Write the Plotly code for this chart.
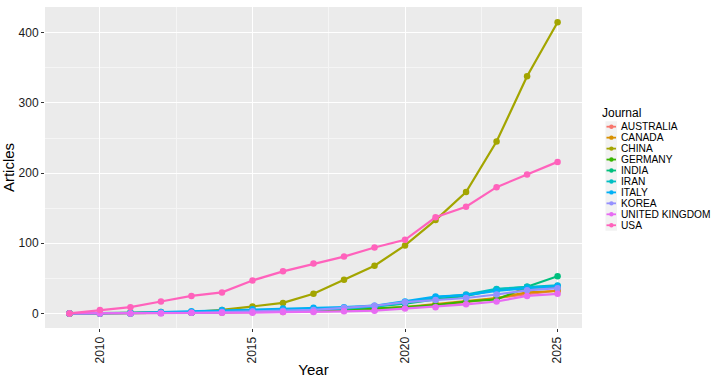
import plotly.graph_objects as go

years = list(range(2009, 2026))
countries = ["AUSTRALIA", "CANADA", "CHINA", "GERMANY", "INDIA", "IRAN",
             "ITALY", "KOREA", "UNITED KINGDOM", "USA"]
colors = ["#F8766D", "#D89000", "#A3A500", "#39B600", "#00BF7D", "#00BFC4",
          "#00B0F6", "#9590FF", "#E76BF3", "#FF62BC"]

australia = [0, 0, 0, 1, 1, 1, 2, 2, 3, 4, 5, 8, 11, 16, 22, 28, 33]
canada    = [0, 0, 1, 1, 1, 2, 2, 3, 4, 5, 7, 9, 13, 18, 22, 30, 32]
china     = [0, 0, 1, 2, 2, 5, 10, 15, 28, 48, 68, 97, 133, 173, 245, 338, 415]
germany   = [0, 0, 1, 1, 2, 2, 3, 3, 4, 5, 7, 9, 12, 17, 20, 37, 37]
india     = [0, 0, 0, 1, 1, 2, 3, 4, 5, 7, 10, 14, 20, 25, 34, 38, 53]
iran      = [0, 0, 0, 1, 2, 3, 4, 5, 6, 7, 10, 15, 23, 27, 35, 38, 40]
italy     = [0, 0, 1, 2, 3, 5, 6, 7, 8, 9, 11, 17, 24, 26, 32, 36, 39]
korea     = [0, 0, 0, 1, 1, 2, 3, 4, 5, 8, 11, 16, 19, 22, 27, 33, 36]
uk        = [0, 0, 0, 0, 1, 1, 1, 2, 2, 3, 4, 7, 9, 13, 17, 25, 28]
usa       = [0, 5, 9, 17, 25, 30, 47, 60, 71, 81, 94, 105, 137, 152, 180, 198, 216]

series = [australia, canada, china, germany, india, iran, italy, korea, uk, usa]

fig = go.Figure()
for name, vals, col in zip(countries, series, colors):
    fig.add_trace(go.Scatter(
        x=years, y=vals, mode="lines+markers", name=name,
        line=dict(color=col, width=2.2),
        marker=dict(color=col, size=6.5),
        showlegend=False,
    ))

W, H = 726, 378
ml, mr, mt, mb = 45, 144, 7, 50
pw, ph = W - ml - mr, H - mt - mb

def px2paper(x, y):
    return (x - ml) / pw, (H - mb - y) / ph

# Manual legend (ggplot style, compact spacing)
shapes = []
annotations = []
tx, ty = px2paper(600, 113)
annotations.append(dict(x=tx, y=ty, xref="paper", yref="paper", text="Journal",
                        showarrow=False, xanchor="left", yanchor="middle",
                        font=dict(size=12, color="black")))
y0 = 126.7
step = 10.95
bx0, by0 = px2paper(605.5, y0 - step / 2)
bx1, by1 = px2paper(617, y0 + 9 * step + step / 2)
shapes.append(dict(type="rect", xref="paper", yref="paper", x0=bx0, x1=bx1,
                   y0=by1, y1=by0, fillcolor="#F2F2F2", line=dict(width=0),
                   layer="below"))
for i, (name, col) in enumerate(zip(countries, colors)):
    cy = y0 + i * step
    lx0, ly = px2paper(606.5, cy)
    lx1, _ = px2paper(616, cy)
    shapes.append(dict(type="line", xref="paper", yref="paper", x0=lx0, x1=lx1,
                       y0=ly, y1=ly, line=dict(color=col, width=1.8)))
    cx0, cy0 = px2paper(609.2, cy - 2.2)
    cx1, cy1 = px2paper(613.6, cy + 2.2)
    shapes.append(dict(type="circle", xref="paper", yref="paper", x0=cx0, x1=cx1,
                       y0=cy1, y1=cy0, fillcolor=col, line=dict(width=0)))
    ax, ay = px2paper(619, cy)
    annotations.append(dict(x=ax, y=ay, xref="paper", yref="paper", text=name,
                            showarrow=False, xanchor="left", yanchor="middle",
                            font=dict(size=10.2, color="black")))

fig.update_layout(
    width=W, height=H,
    margin=dict(l=ml, r=mr, t=mt, b=mb, autoexpand=False),
    paper_bgcolor="white",
    plot_bgcolor="#EBEBEB",
    font=dict(family="Liberation Sans, Arial, sans-serif", color="black"),
    shapes=shapes,
    annotations=annotations,
    showlegend=False,
)
fig.update_xaxes(
    automargin=False,
    range=[2008.2, 2025.8],
    tickvals=[2010, 2015, 2020, 2025],
    tickangle=-90,
    tickfont=dict(size=12, color="#1A1A1A"),
    ticks="outside", ticklen=3, tickcolor="#333333",
    showgrid=True, gridcolor="white", gridwidth=1.1,
    minor=dict(tickvals=[2012.5, 2017.5, 2022.5], showgrid=True,
               gridcolor="#F5F5F5", gridwidth=0.6, ticks=""),
    zeroline=False, showline=False,
    title=dict(text="Year", font=dict(size=15), standoff=1),
)
fig.update_yaxes(
    automargin=False,
    range=[-20.75, 436.75],
    tickvals=[0, 100, 200, 300, 400],
    tickfont=dict(size=12, color="#1A1A1A"),
    ticks="outside", ticklen=3, tickcolor="#333333",
    showgrid=True, gridcolor="white", gridwidth=1.1,
    minor=dict(tickvals=[50, 150, 250, 350], showgrid=True,
               gridcolor="#F5F5F5", gridwidth=0.6, ticks=""),
    zeroline=False, showline=False,
    title=dict(text="Articles", font=dict(size=15), standoff=0),
)

fig.write_html("out.html")
